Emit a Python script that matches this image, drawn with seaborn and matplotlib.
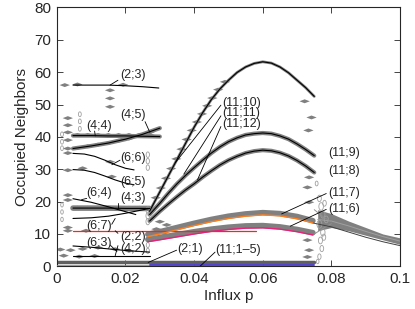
import numpy as np
import pandas as pd
import seaborn as sns
import matplotlib.pyplot as plt

sns.set_style('ticks')
plt.rcParams['font.family'] = ['Liberation Sans', 'DejaVu Sans']
plt.rcParams['xtick.direction'] = 'in'
plt.rcParams['ytick.direction'] = 'in'

# ---- black branches (influx p, occupied neighbours) ----
p_23 = [0.0047, 0.010, 0.015, 0.020, 0.025, 0.0297]
n_23 = [56.0, 56.0, 56.0, 55.8, 55.5, 55.1]
p_44 = [0.0047, 0.010, 0.015, 0.020, 0.025, 0.030]
n_44 = [40.4, 40.4, 40.3, 40.3, 40.2, 40.1]
p_45 = [0.0047, 0.010, 0.015, 0.020, 0.025, 0.030]
n_45 = [36.4, 37.2, 38.1, 39.3, 40.8, 42.7]
p_66 = [0.0047, 0.008, 0.011, 0.014, 0.017, 0.020, 0.0225]
n_66 = [34.9, 34.7, 34.0, 32.8, 31.4, 30.3, 29.8]
p_65 = [0.0047, 0.008, 0.011, 0.014, 0.017, 0.020, 0.0225]
n_65 = [29.9, 29.7, 29.0, 27.9, 26.7, 25.7, 25.2]
p_64 = [0.0047, 0.010, 0.015, 0.020, 0.023]
n_64 = [20.9, 19.8, 18.4, 16.9, 16.0]
p_43 = [0.0047, 0.010, 0.015, 0.020, 0.027]
n_43 = [18.0, 18.0, 18.0, 17.9, 17.9]
p_67 = [0.0047, 0.010, 0.015, 0.020, 0.027]
n_67 = [14.8, 15.0, 15.5, 16.4, 17.9]
p_63 = [0.0047, 0.010, 0.015, 0.020, 0.027]
n_63 = [6.3, 5.9, 5.4, 4.9, 4.4]
p_42 = [0.0047, 0.027]
n_42 = [3.3, 3.3]

# ---- arches of the (11;x) family ----
p_arch = [0.027, 0.030, 0.0325, 0.035, 0.0375, 0.040, 0.0425, 0.045, 0.0475, 0.050,
          0.0525, 0.055, 0.0575, 0.060, 0.0625, 0.065, 0.0675, 0.070, 0.0725, 0.075]
n_top = [17.0, 23.0, 28.0, 33.0, 38.0, 43.0, 47.5, 51.5, 54.8, 57.5,
         59.9, 61.6, 62.7, 63.2, 62.8, 61.6, 59.8, 57.5, 55.2, 52.5]
n_mid = [16.0, 19.5, 22.6, 25.5, 28.1, 30.5, 32.8, 35.0, 36.9, 38.5,
         39.7, 40.6, 41.0, 41.2, 41.0, 40.3, 39.3, 37.8, 36.1, 34.2]
n_low = [14.0, 17.0, 19.3, 21.5, 23.6, 25.5, 27.6, 29.5, 31.3, 32.8,
         34.0, 35.0, 35.6, 35.9, 35.7, 35.1, 34.1, 32.7, 31.0, 29.0]

p_col = [0.0265, 0.030, 0.035, 0.040, 0.045, 0.050, 0.055, 0.060, 0.065, 0.070, 0.0746]
n_orange = [9.2, 10.0, 11.3, 12.6, 13.8, 14.8, 15.5, 15.9, 15.6, 14.7, 13.4]
n_pink = [7.6, 8.2, 9.1, 10.0, 10.8, 11.4, 11.8, 11.9, 11.5, 10.7, 9.7]

p_red = [0.0047, 0.058]
n_red = [10.8, 10.8]
p_green = [0.0, 0.027]
n_green = [0.15, 0.15]
p_blue = [0.027, 0.075]
n_blue = [0.3, 0.3]
p_floor = [0.0, 0.075]
n_floor = [1.3, 1.3]

# ---- tail beyond p = 0.075 ----
p_tail = [0.0746, 0.080, 0.085, 0.090, 0.095, 0.100]
n_tail = [13.4, 12.2, 10.6, 9.0, 7.6, 6.4]
p_band = [0.076, 0.080, 0.085, 0.090, 0.095, 0.100]
n_band_hi = [17.5, 16.3, 14.0, 12.0, 10.0, 8.8]
n_band_lo = [11.0, 12.0, 11.0, 9.6, 8.2, 6.8]
n_band_mid = [14.5, 14.0, 12.5, 10.8, 9.2, 7.8]
p_conv = [0.075, 0.078, 0.080]
n_conv_a = [17.5, 15.0, 13.8]
n_conv_b = [10.0, 12.0, 13.2]

# ---- gray diamonds (sampled states) ----
dia_p = [0.0023, 0.0060, 0.0193, 0.0155, 0.0155, 0.0155,
         0.0032, 0.0032, 0.0032, 0.0032, 0.0032, 0.0032,
         0.006, 0.009, 0.012, 0.015, 0.018, 0.021, 0.024, 0.027,
         0.006, 0.009, 0.012, 0.015, 0.018, 0.021, 0.024, 0.027,
         0.0155, 0.016, 0.0032, 0.0075,
         0.0032, 0.0032, 0.0032,
         0.006, 0.009, 0.012, 0.015, 0.018, 0.021, 0.024,
         0.0032, 0.0085,
         0.001, 0.004, 0.0075, 0.012, 0.017, 0.021,
         0.002, 0.0065, 0.011,
         0.030, 0.032, 0.029, 0.031,
         0.0735, 0.073, 0.0735, 0.073, 0.0735, 0.073,
         0.0722, 0.0742, 0.0733,
         0.0288, 0.0303, 0.0318, 0.0333, 0.0348, 0.0363, 0.0378, 0.0393,
         0.0408, 0.0423, 0.0438, 0.0453, 0.0470, 0.0490]
dia_n = [56.0, 56.2, 56.1, 54.4, 51.9, 49.3,
         45.8, 43.6, 41.4, 39.0, 36.4, 35.0,
         40.6, 40.6, 40.6, 40.6, 40.6, 40.6, 40.6, 40.6,
         36.6, 37.1, 37.6, 38.1, 38.8, 39.5, 40.3, 41.4,
         32.3, 27.7, 29.7, 30.3,
         22.0, 20.5, 12.0,
         18.1, 18.1, 18.1, 18.1, 18.1, 18.1, 18.1,
         11.0, 11.0,
         5.2, 5.0, 5.4, 5.8, 5.3, 4.8,
         3.3, 3.0, 3.2,
         13.8, 12.8, 11.5, 10.3,
         27.5, 24.4, 19.8, 8.1, 5.0, 2.9,
         51.0, 46.0, 42.0,
         21.2, 24.2, 27.2, 30.2, 33.2, 36.2, 39.2, 42.0,
         44.6, 47.1, 49.6, 52.0, 54.6, 57.0]

# ---- light open loops ----
ring_p = [0.0015, 0.0015, 0.0015, 0.0067, 0.0067, 0.0067,
          0.0015, 0.0015, 0.0015,
          0.0265, 0.0265, 0.0265, 0.0265, 0.0265, 0.0265, 0.0265, 0.0265,
          0.0757, 0.0765, 0.0770, 0.0775, 0.0765, 0.0775, 0.0768, 0.0772, 0.0765, 0.0760,
          0.0780, 0.0785, 0.0778]
ring_n = [36.5, 38.5, 40.8, 42.5, 44.8, 47.0,
          14.5, 16.8, 19.0,
          30.5, 32.5, 34.5, 13.8, 15.6, 17.4, 4.8, 6.6,
          25.6, 21.0, 18.5, 16.0, 13.0, 10.5, 8.0, 5.5, 3.0, 1.5,
          19.5, 14.5, 9.0]
ring_s = [12, 12, 12, 12, 12, 12,
          10, 10, 10,
          16, 16, 16, 20, 20, 20, 14, 14,
          12, 22, 30, 26, 34, 28, 24, 20, 16, 10,
          18, 24, 20]

# ---- labels, text anchor and leader end ----
labels = ['(2;3)', '(4;5)', '(4;4)', '(6;6)', '(6;5)', '(6;4)', '(4;3)', '(6;7)',
          '(2;2)', '(6;3)', '(4;2)', '(2;1)', '(11;1\u20135)',
          '(11;10)', '(11;11)', '(11;12)', '(11;9)', '(11;8)', '(11;7)', '(11;6)']
lab_p = [0.0184, 0.0184, 0.0087, 0.0184, 0.0184, 0.0087, 0.0184, 0.0087,
         0.0184, 0.0087, 0.0184, 0.0352, 0.0462,
         0.0481, 0.0481, 0.0481, 0.0790, 0.0790, 0.0790, 0.0790]
lab_n = [59.0, 46.7, 43.4, 33.4, 26.1, 22.7, 21.0, 12.5,
         9.0, 7.1, 5.3, 5.3, 5.1,
         50.6, 47.3, 43.9, 35.0, 29.4, 22.7, 17.6]
lead_p0 = [0.0178, 0.0257, 0.0110, 0.0184, None, 0.0087, 0.0178, 0.0160,
           0.0178, 0.0155, 0.0178, 0.0349, 0.0461,
           0.0478, 0.0478, 0.0478, None, None, 0.0785, 0.0785]
lead_n0 = [57.5, 44.7, 41.8, 32.8, None, 21.0, 19.6, 13.0,
           10.2, 6.6, 6.4, 5.0, 4.4,
           49.8, 46.5, 43.2, None, None, 22.5, 17.6]
lead_p1 = [0.0155, 0.0271, 0.0112, 0.0160, None, 0.0072, 0.0178, 0.0170,
           0.0170, 0.0175, 0.0170, 0.0266, 0.0417,
           0.0345, 0.0370, 0.0410, None, None, 0.0655, 0.0680]
lead_n1 = [56.0, 41.4, 40.3, 31.4, None, 20.6, 18.0, 14.8,
           11.0, 4.6, 3.3, 1.2, 0.0,
           32.0, 28.5, 26.8, None, None, 16.2, 12.4]

fig = plt.figure(figsize=(4.15, 3.09), dpi=100)
ax = fig.add_axes([0.137, 0.138, 0.827, 0.838])


def line(px, ny, color='black', lw=0.8, z=3):
    sns.lineplot(x=px, y=ny, ax=ax, color=color, lw=lw, sort=False,
                 estimator=None, legend=False, zorder=z)


gray = '#808080'

# gray sampled bands underneath
line(p_43, n_43, color=gray, lw=4, z=2)
line(p_44, n_44, color=gray, lw=3, z=2)
line(p_45, n_45, color=gray, lw=3, z=2)
line(p_floor, n_floor, color='#606060', lw=2.5, z=2)
line(p_arch, n_mid, color=gray, lw=3.0, z=2)
line(p_arch, n_low, color=gray, lw=3.0, z=2)
line(p_arch, n_top, color=gray, lw=2.0, z=2)
line(p_col, [v + 0.7 for v in n_orange], color=gray, lw=4, z=2)
line(p_col, [v + 0.7 for v in n_pink], color=gray, lw=4, z=2)
ax.fill_between(p_band, n_band_lo, n_band_hi, color=gray, lw=0, zorder=2)
line(p_band, n_band_mid, color='#a0a0a0', lw=0.7, z=3)
line(p_conv, n_conv_a, color='#909090', lw=0.7, z=3)
line(p_conv, n_conv_b, color='#909090', lw=0.7, z=3)

diamond = [(-1, 0), (0, 0.38), (1, 0), (0, -0.38), (-1, 0)]
sns.scatterplot(x=dia_p, y=dia_n, ax=ax, marker=diamond, s=55, color=gray,
                edgecolor='none', zorder=2, legend=False)
oval = [(np.cos(t) * 0.6, np.sin(t)) for t in np.linspace(0, 2 * np.pi, 25)]
ax.scatter(ring_p, ring_n, s=ring_s, marker=oval, facecolors='none',
           edgecolors='#a0a0a0', linewidths=0.6, zorder=2)

# black branches
for px, ny in [(p_23, n_23), (p_44, n_44), (p_45, n_45), (p_66, n_66), (p_65, n_65),
               (p_64, n_64), (p_43, n_43), (p_67, n_67), (p_63, n_63), (p_42, n_42),
               (p_arch, n_top), (p_arch, n_mid), (p_arch, n_low)]:
    line(px, ny)
line(p_tail, n_tail, color='#404040', lw=0.7)

# coloured branches
line(p_red, n_red, color='#ff2020', lw=0.9, z=4)
line(p_col, n_orange, color='#ff7f1e', lw=1.0, z=4)
line(p_col, n_pink, color='#e8207a', lw=1.0, z=4)
line(p_green, n_green, color='#40c040', lw=1.2, z=4)
line(p_blue, n_blue, color='#5040d0', lw=1.4, z=4)

for i, t in enumerate(labels):
    ax.text(lab_p[i], lab_n[i], t, fontsize=9, ha='left', va='center', zorder=6)
    if lead_p0[i] is not None:
        line([lead_p0[i], lead_p1[i]], [lead_n0[i], lead_n1[i]], lw=0.6, z=5)

ax.set_xlim(0, 0.1)
ax.set_ylim(0, 80)
ax.set_xticks([0, 0.02, 0.04, 0.06, 0.08, 0.1])
ax.set_xticklabels(['0', '0.02', '0.04', '0.06', '0.08', '0.1'])
ax.set_yticks(range(0, 81, 10))
ax.tick_params(top=True, right=True, length=4, width=0.6, labelsize=11, pad=4)
for sp in ax.spines.values():
    sp.set_linewidth(0.8)
ax.set_xlabel('Influx p', fontsize=11, labelpad=2)
ax.set_ylabel('Occupied Neighbors', fontsize=11, labelpad=4)

fig.savefig('out.png', dpi=100)
